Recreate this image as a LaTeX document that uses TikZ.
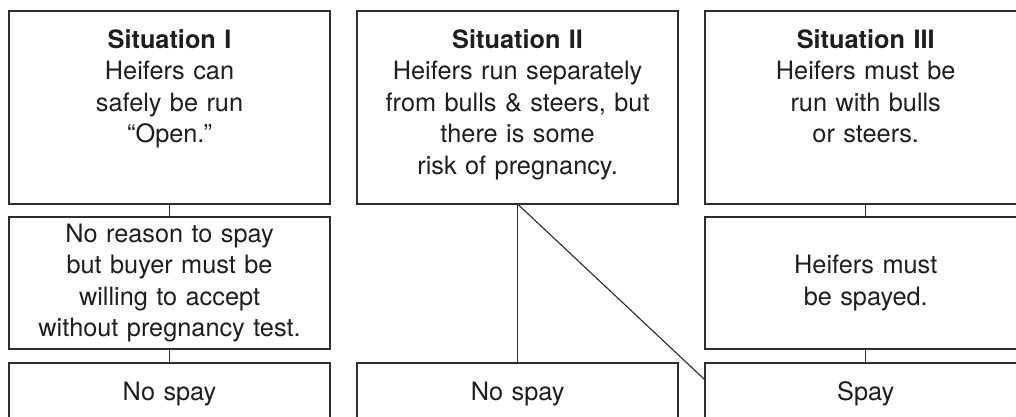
\documentclass[tikz,border=0pt]{standalone}
\usepackage{fontspec}
\setmainfont{TeX Gyre Heros}
\usetikzlibrary{positioning,calc}
\definecolor{boxline}{RGB}{45,45,45}
\definecolor{ink}{RGB}{30,30,30}
\tikzset{
  sit/.style={rectangle,draw=boxline,line width=1.3pt,inner sep=0pt,outer sep=0pt,
              text width=8.025cm,align=center,text=ink,
              font=\fontsize{18}{22.4}\selectfont},
  sittop/.style={sit,text height=0.925cm,text depth=3.9cm},
  sitmid/.style={sit,minimum height=3.3cm},
  sitend/.style={sit,text height=0.925cm,text depth=1.075cm},
  link/.style={draw=boxline,line width=0.8pt},
}
\begin{document}
\begin{tikzpicture}[x=0.025cm,y=-0.025cm]
\useasboundingbox (0,0) rectangle (1016,416);
\clip (0,0) rectangle (1016,416);

% Situations
\node[sittop,anchor=north west] (s1) at (9,11)
  {\textbf{Situation I}\\Heifers can\\safely be run\\“Open.”};
\node[sittop,right=0.675cm of s1] (s2)
  {\textbf{Situation II}\\Heifers run separately\\from bulls \& steers, but\\there is some\\risk of pregnancy.};
\node[sittop,right=0.675cm of s2] (s3)
  {\textbf{Situation III}\\Heifers must be\\run with bulls\\or steers.};

% Consequences
\node[sitmid,below=0.325cm of s1] (m1)
  {No reason to spay\\but buyer must be\\willing to accept\\without pregnancy test.};
\node[sitmid,below=0.325cm of s3] (m3)
  {Heifers must\\be spayed.};

% Decisions
\node[sitend,below=0.35cm of m1] (e1) {No spay};
\node[sitend,right=0.675cm of e1] (e2) {No spay};
\node[sitend,right=0.675cm of e2] (e3) {Spay};

\draw[link] (s1) -- (m1);
\draw[link] (m1) -- (e1);
\draw[link] (s3) -- (m3);
\draw[link] (m3) -- (e3);
\draw[link] (s2) -- (e2);
\draw[link] (s2.south) -- ($(e3.north west)+(0,17)$);
\end{tikzpicture}
\end{document}
